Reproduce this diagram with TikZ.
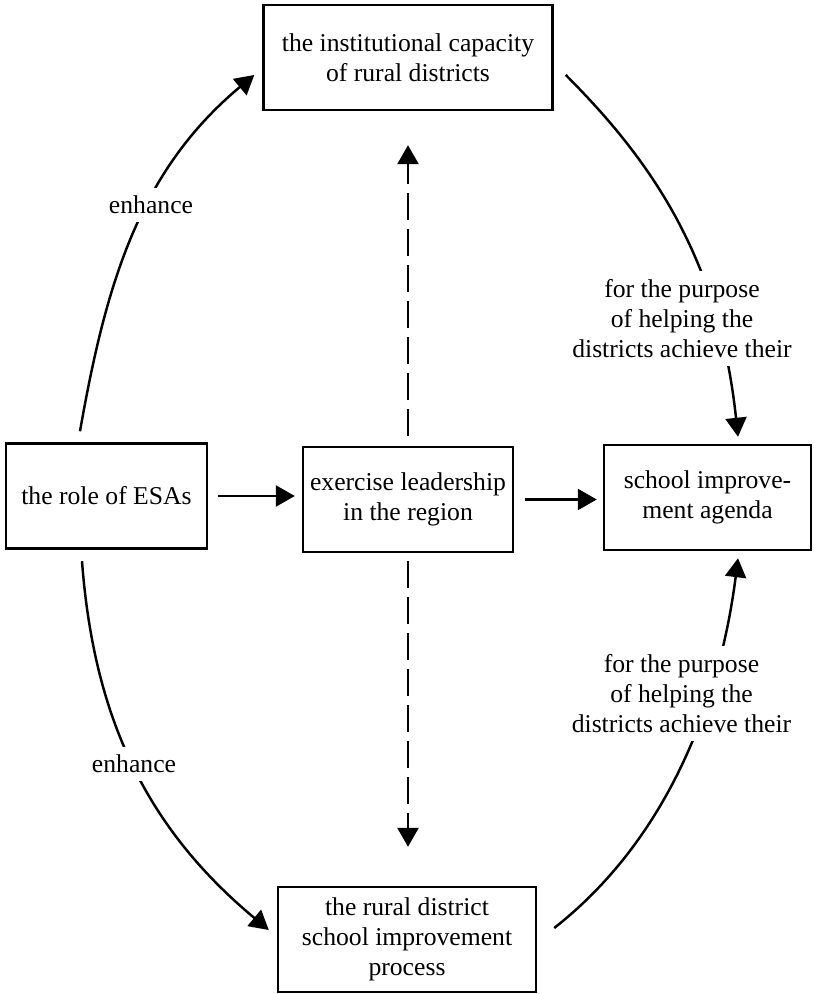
\documentclass[tikz,border=0pt]{standalone}
\usepackage{fontspec}
\setmainfont{Liberation Serif}
\usetikzlibrary{arrows.meta,calc}

\tikzset{
	box/.style={draw, line width=0.7pt, align=center, inner sep=0pt, minimum height=1.05cm},
	arr/.style={line width=0.7pt, -{Triangle[length=0.19cm,width=0.21cm]}},
	dasharr/.style={arr, dash pattern=on 0.27cm off 0.09cm},
	lbl/.style={fill=white, align=center, inner sep=0.08cm},
}

\begin{document}
\begin{tikzpicture}[font=\fontsize{7.3}{8.5}\selectfont]
			\useasboundingbox (0,0) rectangle (8.13,9.94);
			
			% Boxes
			\node[box, minimum width=2.89cm] (capacity) at (4.08,9.365) {the institutional capacity\\of rural districts};
			\node[box, minimum width=2.01cm] (esas) at (1.065,4.98) {the role of ESAs};
			\node[box, minimum width=2.10cm] (leader) at (4.08,4.945) {exercise leadership\\in the region};
			\node[box, minimum width=2.07cm] (agenda) at (7.075,4.965) {school improve-\\ment agenda};
			\node[box, minimum width=2.58cm] (process) at (4.07,0.545) {the rural district\\school improvement\\process};
			
			% Middle row
			\draw[arr, shorten <=0.1cm, shorten >=0.07cm] (esas.east) -- (esas.east -| leader.west);
			\draw[arr, shorten <=0.11cm, shorten >=0.06cm] (leader.east) -- (leader.east -| agenda.west);
			
			% Dashed links
			\draw[dasharr, shorten <=0.1cm, shorten >=0.34cm] (leader.north) -- (leader.north |- capacity.south);
			\draw[dasharr, shorten <=0.08cm, shorten >=0.39cm] (leader.south) -- (leader.south |- process.north);
			
			% Curved links
			\draw[arr] ($(esas.north)+(-0.265,0.11)$) .. controls +(0.26,1.48) and +(-1.15,-0.96) .. ($(capacity.west)+(-0.08,-0.175)$);
			\draw[arr] ($(esas.south)+(-0.245,-0.115)$) .. controls +(0.12,-1.6) and +(-1.2,1.0) .. ($(process.west)+(-0.08,0.095)$);
			\draw[arr] ($(capacity.east)+(0.12,-0.175)$) .. controls +(0.85,-0.85) and +(-0.19,1.79) .. ($(agenda.north)+(0.305,0.07)$);
			\draw[arr] ($(process.east)+(0.17,0.115)$) .. controls +(1.26,0.99) and +(-0.15,-1.19) .. ($(agenda.south)+(0.305,-0.07)$);
			
			% Labels
			\node[lbl] (enhanceA) at (1.51,7.89) {enhance};
			\node[lbl] (enhanceB) at (1.34,2.30) {enhance};
			\node[lbl] (purposeA) at (6.82,6.755) {for the purpose\\of helping the\\districts achieve their};
			\node[lbl] (purposeB) at (6.815,3.005) {for the purpose\\of helping the\\districts achieve their};
		\end{tikzpicture}
\end{document}
